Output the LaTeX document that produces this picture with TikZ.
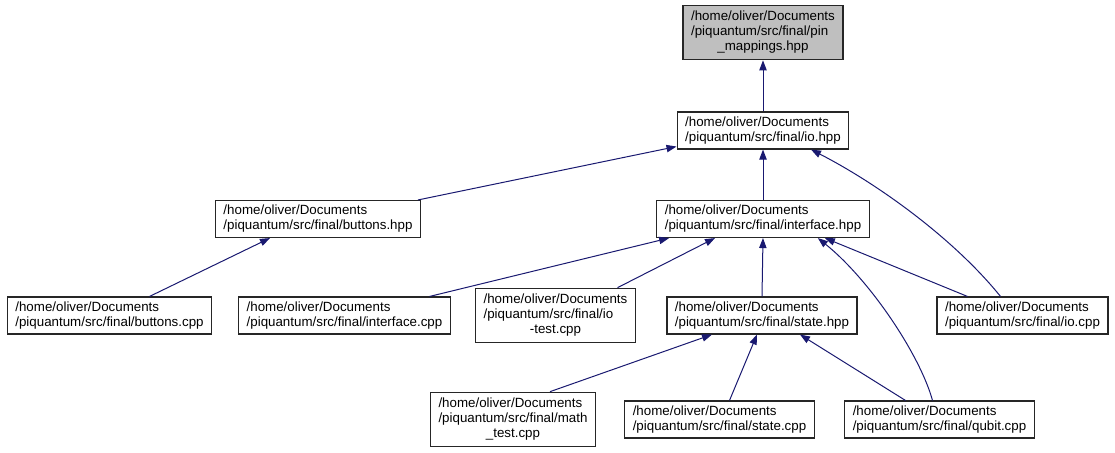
\documentclass[tikz,border=0pt]{standalone}
\usepackage{fontspec}
\setmainfont{Liberation Sans}
\usetikzlibrary{arrows.meta,calc}
\definecolor{edgeBlue}{HTML}{191970}
\definecolor{headGray}{HTML}{BFBFBF}

% trzy linie: ostatnia wysrodkowana
\newcommand{\pathThree}[3]{\begin{tabular}{@{}l@{}}#1\\#2\\\multicolumn{1}{@{}c@{}}{#3}\end{tabular}}

\begin{document}
\begin{tikzpicture}[x=0.75pt,y=-0.75pt,
    file/.style={draw=black!85, line width=1pt, fill=white, align=left,
        inner xsep=6pt, inner ysep=3.5pt, font=\fontsize{10}{11.25}\selectfont},
    dep/.style={draw=edgeBlue, line width=0.75pt, -{Triangle[length=7.5pt,width=5.5pt]}}]
            % --- PARAMETRY ---
            \pgfmathsetmacro{\rowA}{32.5}    % naglowek
            \pgfmathsetmacro{\rowB}{130.5}   % io.hpp
            \pgfmathsetmacro{\rowC}{219}     % buttons / interface
            \pgfmathsetmacro{\rowD}{315.5}   % pliki cpp
            \pgfmathsetmacro{\rowE}{419.5}   % najnizszy rzad

            \useasboundingbox (0,0) rectangle (1115,453);

            % Wezly
            \node[file, fill=headGray] (pin) at (763,\rowA)
                {\pathThree{/home/oliver/Documents}{/piquantum/src/final/pin}{\_mappings.hpp}};
            \node[file] (ioh) at (763,\rowB) {/home/oliver/Documents\\/piquantum/src/final/io.hpp};
            \node[file] (btnh) at (318,\rowC) {/home/oliver/Documents\\/piquantum/src/final/buttons.hpp};
            \node[file] (ifh) at (763,\rowC) {/home/oliver/Documents\\/piquantum/src/final/interface.hpp};
            \node[file] (btncpp) at (109.5,\rowD) {/home/oliver/Documents\\/piquantum/src/final/buttons.cpp};
            \node[file] (ifcpp) at (344.5,\rowD) {/home/oliver/Documents\\/piquantum/src/final/interface.cpp};
            \node[file] (iotest) at (555.5,\rowD)
                {\pathThree{/home/oliver/Documents}{/piquantum/src/final/io}{-test.cpp}};
            \node[file] (sth) at (762,\rowD) {/home/oliver/Documents\\/piquantum/src/final/state.hpp};
            \node[file] (iocpp) at (1022.5,\rowD) {/home/oliver/Documents\\/piquantum/src/final/io.cpp};
            \node[file] (mtcpp) at (513,\rowE)
                {\pathThree{/home/oliver/Documents}{/piquantum/src/final/math}{\_test.cpp}};
            \node[file] (stcpp) at (719.5,\rowE) {/home/oliver/Documents\\/piquantum/src/final/state.cpp};
            \node[file] (qcpp) at (939.5,\rowE) {/home/oliver/Documents\\/piquantum/src/final/qubit.cpp};

            % Zaleznosci od io.hpp i pin_mappings.hpp
            \draw[dep] (ioh.north) -- (pin.south);
            \draw[dep] ($(btnh.north)+(100,0)$) -- ($(ioh.south west)+(0,-3)$);
            \draw[dep] (ifh.north) -- (ioh.south);
            \draw[dep] ($(iocpp.north)+(-22,0)$) .. controls (955,240) and (880,185) .. ($(ioh.south)+(48,0)$);

            % Zaleznosci od buttons.hpp i interface.hpp
            \draw[dep] ($(btncpp.north)+(40,0)$) -- ($(btnh.south)+(-48,0)$);
            \draw[dep] ($(ifcpp.north)+(85,0)$) -- ($(ifh.south west)+(13,0)$);
            \draw[dep] ($(iotest.north)+(62,0)$) -- ($(ifh.south)+(-48,0)$);
            \draw[dep] (sth.north) -- (ifh.south);
            \draw[dep] ($(iocpp.north)+(-55,0)$) -- ($(ifh.south east)+(-45,0)$);
            \draw[dep] ($(qcpp.north)+(-7,0)$) .. controls (920,355) and (870,280) .. ($(ifh.south east)+(-52,0)$);

            % Zaleznosci od state.hpp
            \draw[dep] ($(mtcpp.north)+(37,0)$) -- ($(sth.south)+(-50,0)$);
            \draw[dep] ($(stcpp.north)+(10,0)$) -- ($(sth.south)+(-5,0)$);
            \draw[dep] ($(qcpp.north)+(-34,0)$) -- ($(sth.south)+(38,0)$);
\end{tikzpicture}
\end{document}
